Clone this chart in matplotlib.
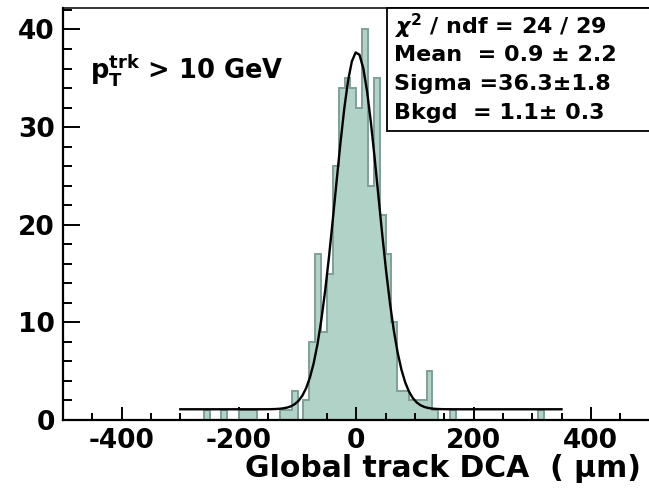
import numpy as np
import matplotlib; matplotlib.use("Agg")
import matplotlib.pyplot as plt
from matplotlib.ticker import MultipleLocator
from matplotlib.patches import Rectangle

plt.rcParams.update({"font.family": "DejaVu Sans", "font.weight": "bold",
                     "mathtext.fontset": "dejavusans", "axes.unicode_minus": False})

# histogram entries: lower edge of each non-empty 10 um bin and its count
BIN_LO = [-260, -230, -200, -190, -180, -130, -120, -110, -90, -80, -70, -60, -50, -40, -30,
          -20, -10, 0, 10, 20, 30, 40, 50, 60, 70, 80, 90, 100, 110, 120, 130, 160, 310]
COUNTS = [1, 1, 1, 1, 1, 1, 1, 3, 2, 8, 17, 9, 15, 26, 34,
          35, 34, 32, 40, 24, 35, 21, 17, 10, 3, 3, 2, 2, 2, 5, 1, 1, 1]
# gaussian + flat background fit (values from the stats box, peak)
MEAN, SIGMA, BKGD, PEAK = 0.9, 36.3, 1.1, 37.7
FIT_LO, FIT_HI = -300, 350
STATS = [r"$\chi^2$ / ndf = 24 / 29", "Mean  = 0.9 ± 2.2", "Sigma =36.3±1.8", "Bkgd  = 1.1± 0.3"]
XTICKS = [-400, -200, 0, 200, 400]
YTICKS = [0, 10, 20, 30, 40]

FILL = "#b0d2c7"; EDGE = "#7f9f9b"
W, H = 649, 496
fig = plt.figure(figsize=(W/100, H/100), dpi=100)
ax = fig.add_axes([63/W, 1-420/H, 586.5/W, 412/H])

edges = np.arange(-500, 501, 10)
h = np.zeros(len(edges)-1)
h[(np.array(BIN_LO)+500)//10] = COUNTS
ax.stairs(h, edges, fill=True, color=FILL, zorder=1)
ax.stairs(h, edges, color=EDGE, lw=1.4, zorder=2)

xf = np.linspace(FIT_LO, FIT_HI, 101)
yf = BKGD + (PEAK-BKGD)*np.exp(-0.5*((xf-MEAN)/SIGMA)**2)
ax.plot(xf, yf, color="black", lw=1.7, zorder=3)

ax.set_xlim(-500, 500); ax.set_ylim(0, 42.2)
ax.set_xticks(XTICKS); ax.set_xticklabels([str(v) for v in XTICKS])
ax.set_yticks(YTICKS); ax.set_yticklabels([str(v) for v in YTICKS])
ax.xaxis.set_minor_locator(MultipleLocator(50)); ax.yaxis.set_minor_locator(MultipleLocator(2))
ax.tick_params(axis="both", which="both", direction="in", top=False, right=False, width=1.4, labelsize=19)
ax.tick_params(axis="x", which="major", length=9.5, pad=6)
ax.tick_params(axis="x", which="minor", length=5)
ax.tick_params(axis="y", which="major", length=12, pad=6)
ax.tick_params(axis="y", which="minor", length=6.5)
for s in ["left", "bottom"]: ax.spines[s].set_linewidth(1.6)
ax.spines["top"].set_linewidth(1.1); ax.spines["right"].set_visible(False)

# stats box
x0 = (387-63)/586.5; y0 = (420-131)/412
ax.add_patch(Rectangle((x0, y0), 1.2-x0, 1-y0, transform=ax.transAxes, facecolor="white",
                       edgecolor="black", lw=1.3, clip_on=False, zorder=5))
for i, s in enumerate(STATS):
    fig.text(394/W, 1-(26+29*i)/H, s, fontsize=16, fontweight="bold", va="center", ha="left", zorder=6)

fig.text(90/W, 1-78/H, r"$\mathbf{p}_{\mathbf{T}}^{\mathbf{trk}}$ > 10 GeV", fontsize=18.5,
         fontweight="bold", va="baseline", ha="left")
fig.text(641/W, 1-477/H, "Global track DCA  ( μm)", fontsize=21.5, fontweight="bold",
         va="baseline", ha="right")

fig.savefig("out.png", dpi=100)
